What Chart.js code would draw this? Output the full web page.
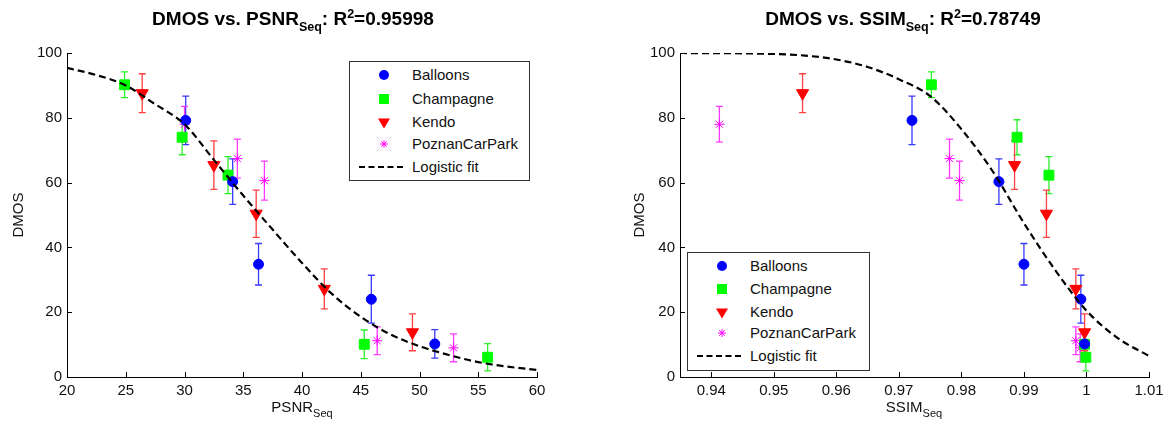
<!DOCTYPE html>
<html><head><meta charset="utf-8">
<script src="https://cdn.jsdelivr.net/npm/chart.js@4.4.1/dist/chart.umd.min.js"></script>
<style>
html,body{margin:0;padding:0;background:#fff;}
#wrap{position:relative;width:1171px;height:430px;overflow:hidden;font-family:"Liberation Sans",Arial,sans-serif;color:#111;}
canvas{position:absolute;top:0;}
.title{position:absolute;top:8px;font-weight:bold;font-size:19px;white-space:nowrap;transform:translateX(-50%);line-height:22px;color:#000;}
.title .sb{font-size:12.5px;position:relative;top:6px;}
.title .sp{font-size:12.5px;position:relative;top:-7px;}
.xlab{position:absolute;top:398px;font-size:15px;white-space:nowrap;transform:translateX(-50%);line-height:18px;}
.xlab .sb{font-size:11px;position:relative;top:5px;}
.legend{position:absolute;border:1px solid #333;background:#fff;font-size:15px;box-sizing:border-box;}
.legend .row{position:absolute;left:0;height:20px;line-height:20px;white-space:nowrap;width:100%;}
.legend svg{position:absolute;left:0;top:0;}
.legend span{position:absolute;left:62px;top:0;}
</style></head>
<body>
<div id="wrap">
  <canvas id="c1" width="600" height="430" style="left:0"></canvas>
  <canvas id="c2" width="558" height="430" style="left:613px"></canvas>
  <div class="title" style="left:293px">DMOS vs. PSNR<span class="sb">Seq</span>: R<span class="sp">2</span>=0.95998</div>
  <div class="title" style="left:903px">DMOS vs. SSIM<span class="sb">Seq</span>: R<span class="sp">2</span>=0.78749</div>
  <div class="xlab" style="left:302px">PSNR<span class="sb">Seq</span></div>
  <div class="xlab" style="left:914px">SSIM<span class="sb">Seq</span></div>
  <div class="legend" id="leg1" style="left:349px;top:61px;width:181px;height:120px"></div>
  <div class="legend" id="leg2" style="left:687px;top:252px;width:183px;height:119px"></div>
</div>
<script>
// ---- Data ----
const seriesNames = ['Balloons', 'Champagne', 'Kendo', 'PoznanCarPark'];

const balloonsDmos = [79.2, 60.3, 34.8, 24.0, 10.2];
const balloonsErr  = [7.5, 7.0, 6.4, 7.4, 4.4];
const balloonsPsnr = [30.1, 34.1, 36.3, 45.9, 51.3];
const balloonsSsim = [0.9721, 0.9860, 0.9900, 0.9991, 0.9997];

const champagneDmos = [90.2, 74.0, 62.3, 10.1, 6.1];
const champagneErr  = [4.0, 5.4, 5.7, 4.4, 4.2];
const champagnePsnr = [24.9, 29.8, 33.7, 45.3, 55.8];
const champagneSsim = [0.9752, 0.9889, 0.9940, 0.9997, 0.9999];

const kendoDmos = [87.6, 65.4, 50.4, 27.2, 13.8];
const kendoErr  = [6.0, 7.5, 7.3, 6.2, 5.7];
const kendoPsnr = [26.4, 32.5, 36.1, 41.9, 49.4];
const kendoSsim = [0.9546, 0.9885, 0.9936, 0.9983, 0.9997];

const poznanDmos = [78.0, 67.4, 60.6, 11.2, 9.0];
const poznanErr  = [5.5, 6.0, 6.0, 4.3, 4.3];
const poznanPsnr = [30.0, 34.5, 36.8, 46.4, 52.9];
const poznanSsim = [0.9413, 0.9781, 0.9797, 0.9983, 0.9990];

const psnrFitX = [20, 22.5, 25, 27.5, 30, 32.5, 35, 37.5, 40, 42.5, 45, 47.5, 50, 52.5, 55, 57.5, 60];
const psnrFitY = [95.4, 93.2, 90.0, 84.2, 78.0, 67.0, 56.0, 45.5, 35.2, 25.8, 18.6, 13.2, 9.5, 6.8, 4.6, 3.2, 2.2];

const ssimFitX = [0.935, 0.94, 0.945, 0.95, 0.955, 0.96, 0.965, 0.97, 0.975, 0.98, 0.985, 0.99, 0.995, 1.0, 1.005, 1.01];
const ssimFitY = [100, 99.95, 99.9, 99.7, 99.2, 98.0, 95.7, 91.9, 86.7, 76.5, 63.5, 47.5, 33.0, 20.5, 12.0, 6.5];

const psnrTicks = [20, 25, 30, 35, 40, 45, 50, 55, 60];
const ssimTicks = [0.94, 0.95, 0.96, 0.97, 0.98, 0.99, 1.0, 1.01];
const dmosTicks = [0, 20, 40, 60, 80, 100];
const fitLabel = 'Logistic fit';

// ---- Styles ----
const styles = [
  {color:'#0000ff', err:'#3a3aff', pointStyle:'circle', radius:5},
  {color:'#00ff00', err:'#2cf02c', pointStyle:'rect', radius:7},
  {color:'#ff0000', err:'#ff4040', pointStyle:'triangle', radius:7, rotation:180},
  {color:'#ff00ff', err:'#ff3aff', pointStyle:'star', radius:5}
];
const dmosAll = [balloonsDmos, champagneDmos, kendoDmos, poznanDmos];
const errAll = [balloonsErr, champagneErr, kendoErr, poznanErr];

const FONT = '"Liberation Sans", Arial, sans-serif';

const errorBars = {
  id: 'errorBars',
  beforeDatasetsDraw(chart) {
    const {ctx, scales:{x, y}} = chart;
    chart.data.datasets.forEach((ds) => {
      if (!ds.errors) return;
      ctx.save();
      ctx.strokeStyle = ds.errorColor;
      ctx.lineWidth = 1.3;
      const cap = 3.5;
      ds.data.forEach((p, j) => {
        const px = x.getPixelForValue(p.x);
        const top = y.getPixelForValue(p.y + ds.errors[j]);
        const bot = y.getPixelForValue(p.y - ds.errors[j]);
        ctx.beginPath();
        ctx.moveTo(px, top); ctx.lineTo(px, bot);
        ctx.moveTo(px - cap, top); ctx.lineTo(px + cap, top);
        ctx.moveTo(px - cap, bot); ctx.lineTo(px + cap, bot);
        ctx.stroke();
      });
      ctx.restore();
    });
  }
};

const innerTicks = {
  id: 'innerTicks',
  afterDraw(chart) {
    const {ctx, chartArea:a, scales:{x, y}} = chart;
    ctx.save();
    ctx.strokeStyle = '#000';
    ctx.lineWidth = 1;
    ctx.beginPath();
    x.ticks.forEach(t => {
      const px = Math.round(x.getPixelForValue(t.value)) + 0.5;
      ctx.moveTo(px, a.bottom); ctx.lineTo(px, a.bottom - 5);
    });
    y.ticks.forEach(t => {
      const py = Math.round(y.getPixelForValue(t.value)) + 0.5;
      ctx.moveTo(a.left, py); ctx.lineTo(a.left + 5, py);
    });
    ctx.stroke();
    ctx.restore();
  }
};

function makeChart(canvasId, xArrays, fitX, fitY, xMin, xMax, xTicks, padRight, yTitlePad) {
  const datasets = [{
    label: fitLabel,
    data: fitX.map((v, i) => ({x: v, y: fitY[i]})),
    showLine: true,
    borderColor: '#000',
    borderWidth: 2.2,
    borderDash: [7, 4],
    pointRadius: 0,
    cubicInterpolationMode: 'monotone',
    order: 0
  }];
  seriesNames.forEach((name, k) => {
    const s = styles[k];
    datasets.push({
      label: name,
      data: xArrays[k].map((v, i) => ({x: v, y: dmosAll[k][i]})),
      errors: errAll[k],
      errorColor: s.err,
      pointStyle: s.pointStyle,
      pointRadius: s.radius,
      pointRotation: s.rotation || 0,
      backgroundColor: s.color,
      borderColor: s.color,
      borderWidth: 1,
      showLine: false,
      order: 1
    });
  });
  return new Chart(document.getElementById(canvasId), {
    type: 'scatter',
    data: {datasets},
    options: {
      responsive: false,
      animation: false,
      devicePixelRatio: 1,
      layout: {padding: {top: 53, right: padRight, left: 0, bottom: 0}},
      plugins: {legend: {display: false}, tooltip: {enabled: false}},
      scales: {
        x: {
          type: 'linear', min: xMin, max: xMax,
          afterBuildTicks: (sc) => { sc.ticks = xTicks.map(v => ({value: v})); },
          afterFit: (sc) => { sc.height = 53; sc.paddingLeft = 0; sc.paddingRight = 0; },
          grid: {display: true, drawOnChartArea: false, drawTicks: false},
          border: {display: true, color: '#000', width: 1},
          ticks: {
            padding: 5, color: '#111', maxRotation: 0, autoSkip: false,
            font: {family: FONT, size: 15},
            callback: (v) => String(+Number(v).toFixed(2))
          }
        },
        y: {
          type: 'linear', min: 0, max: 100,
          afterBuildTicks: (sc) => { sc.ticks = dmosTicks.map(v => ({value: v})); },
          afterFit: (sc) => { sc.width = 67; sc.paddingTop = 0; sc.paddingBottom = 0; },
          grid: {display: true, drawOnChartArea: false, drawTicks: false},
          border: {display: true, color: '#000', width: 1},
          ticks: {padding: 5, color: '#111', autoSkip: false, font: {family: FONT, size: 15}},
          title: {display: true, text: 'DMOS', color: '#111', font: {family: FONT, size: 15}, padding: {top: yTitlePad, bottom: 0}}
        }
      }
    },
    plugins: [errorBars, innerTicks]
  });
}

makeChart('c1', [balloonsPsnr, champagnePsnr, kendoPsnr, poznanPsnr], psnrFitX, psnrFitY, 20, 60, psnrTicks, 600 - 537, 10);
makeChart('c2', [balloonsSsim, champagneSsim, kendoSsim, poznanSsim], ssimFitX, ssimFitY, 0.935, 1.01, ssimTicks, 558 - 536, 18);

// ---- Legends (HTML) ----
function markerSvg(k) {
  const s = styles[k];
  let shape = '';
  if (s.pointStyle === 'circle') shape = `<circle cx="34" cy="10" r="5" fill="${s.color}"/>`;
  else if (s.pointStyle === 'rect') shape = `<rect x="29" y="5" width="10" height="10" fill="${s.color}"/>`;
  else if (s.pointStyle === 'triangle') shape = `<polygon points="28,6.5 40,6.5 34,16.5" fill="${s.color}"/>`;
  else shape = `<path d="M30,10H38M34,6V14M31.2,7.2L36.8,12.8M36.8,7.2L31.2,12.8" stroke="${s.color}" stroke-width="1"/>`;
  return `<svg width="60" height="20">${shape}</svg>`;
}
function buildLegend(id, rowTops) {
  const el = document.getElementById(id);
  let html = '';
  seriesNames.forEach((name, k) => {
    html += `<div class="row" style="top:${rowTops[k]}px">${markerSvg(k)}<span>${name}</span></div>`;
  });
  html += `<div class="row" style="top:${rowTops[4]}px"><svg width="60" height="20"><line x1="9" y1="10" x2="55" y2="10" stroke="#000" stroke-width="2.2" stroke-dasharray="6,3.5"/></svg><span>${fitLabel}</span></div>`;
  el.innerHTML = html;
}
buildLegend('leg1', [3, 27, 50, 72, 95]);
buildLegend('leg2', [3, 26, 49, 70, 93]);
</script>
</body></html>
